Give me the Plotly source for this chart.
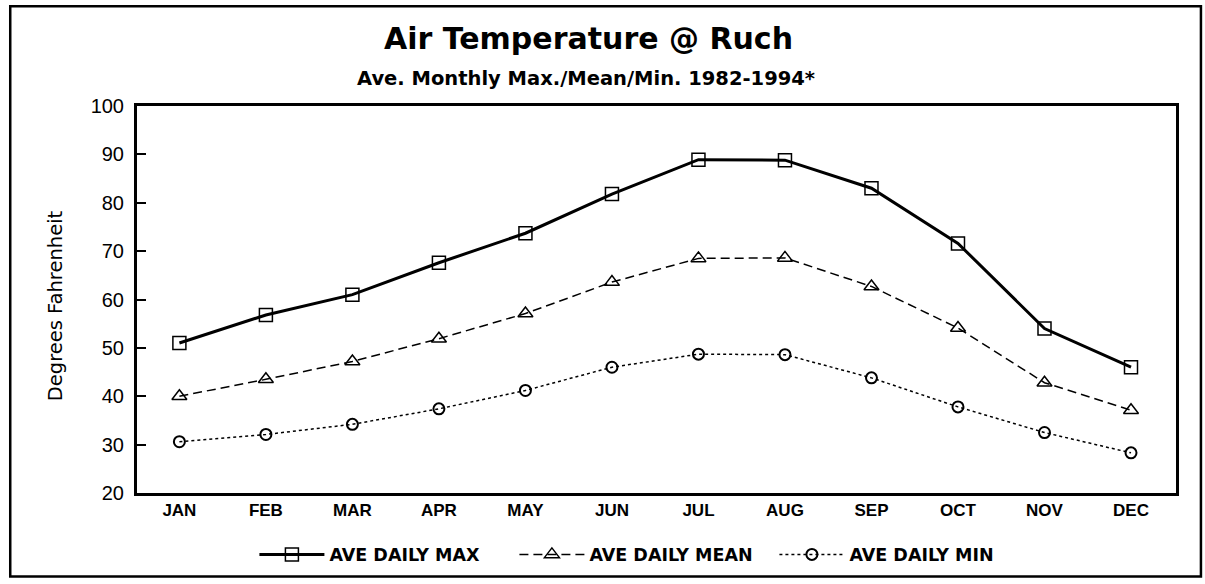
import plotly.graph_objects as go

months = ["JAN", "FEB", "MAR", "APR", "MAY", "JUN", "JUL", "AUG", "SEP", "OCT", "NOV", "DEC"]
ave_max = [51, 56.8, 61, 67.6, 73.7, 81.8, 88.9, 88.8, 83, 71.6, 54, 46]
ave_mean = [40, 43.5, 47.2, 51.9, 57.1, 63.6, 68.5, 68.6, 62.7, 54.1, 42.8, 37.1]
ave_min = [30.6, 32.1, 34.2, 37.4, 41.2, 46, 48.7, 48.6, 43.8, 37.8, 32.5, 28.3]

ARIAL = "Arial, Liberation Sans, sans-serif"
DEJAVU = "DejaVu Sans, sans-serif"

fig = go.Figure()
fig.add_trace(go.Scatter(
    x=months, y=ave_max, name="AVE DAILY MAX", mode="lines+markers",
    line=dict(color="black", width=3, dash="solid"),
    marker=dict(symbol="square-open", size=13, color="black", line=dict(width=1.5)),
))
fig.add_trace(go.Scatter(
    x=months, y=ave_mean, name="AVE DAILY MEAN", mode="lines+markers",
    line=dict(color="black", width=1.5, dash="9px,5px"),
    marker=dict(symbol="triangle-up-open", size=13, color="black", line=dict(width=1.5)),
))
fig.add_trace(go.Scatter(
    x=months, y=ave_min, name="AVE DAILY MIN", mode="lines+markers",
    line=dict(color="black", width=1.5, dash="dot"),
    marker=dict(symbol="circle-open", size=11, color="black", line=dict(width=2)),
))

fig.update_layout(
    width=1205, height=584,
    margin=dict(l=137, r=29, t=106, b=88),
    paper_bgcolor="white", plot_bgcolor="white",
    font=dict(family=ARIAL, color="black"),
    showlegend=True,
    legend=dict(orientation="h", x=0.113, xanchor="left", y=-0.159, yanchor="middle",
                font=dict(size=17.5, family=DEJAVU, color="black", weight="bold"),
                itemwidth=65, entrywidth=180, traceorder="normal"),
    annotations=[
        dict(text="<b>Air Temperature @ Ruch</b>", xref="paper", yref="paper",
             x=0.435, y=1.174, xanchor="center", yanchor="middle", showarrow=False,
             font=dict(size=30, family=DEJAVU, color="black")),
        dict(text="<b>Ave. Monthly Max./Mean/Min. 1982-1994*</b>", xref="paper", yref="paper",
             x=0.432, y=1.072, xanchor="center", yanchor="middle", showarrow=False,
             font=dict(size=19.5, family=DEJAVU, color="black")),
        dict(text="Degrees Fahrenheit", xref="paper", yref="paper",
             x=-0.079, y=0.485, xanchor="center", yanchor="middle", showarrow=False,
             textangle=-90, font=dict(size=19.5, family=DEJAVU, color="black")),
    ],
    shapes=[
        dict(type="rect", xref="paper", yref="paper", x0=-0.122, x1=1.024, y0=-0.216, y1=1.258,
             line=dict(color="black", width=2.5), fillcolor="rgba(0,0,0,0)"),
    ],
)

fig.update_xaxes(
    range=[-0.49, 11.52], showgrid=False, zeroline=False,
    showline=True, linecolor="black", linewidth=3, mirror=True,
    ticks="", tickfont=dict(size=17, family=ARIAL, color="black"),
    tickmode="array", tickvals=months, ticktext=["<b>%s</b>" % m for m in months],
)
fig.update_yaxes(
    range=[20, 100], dtick=10, showgrid=False, zeroline=False,
    showline=True, linecolor="black", linewidth=3, mirror=True,
    ticks="inside", ticklen=9, tickwidth=2, tickcolor="black",
    ticklabelstandoff=6,
    tickfont=dict(size=20, family=ARIAL, color="black"),
)

fig.write_html("out.html", config={"displayModeBar": False},
               post_script="document.body.style.margin='0';")
